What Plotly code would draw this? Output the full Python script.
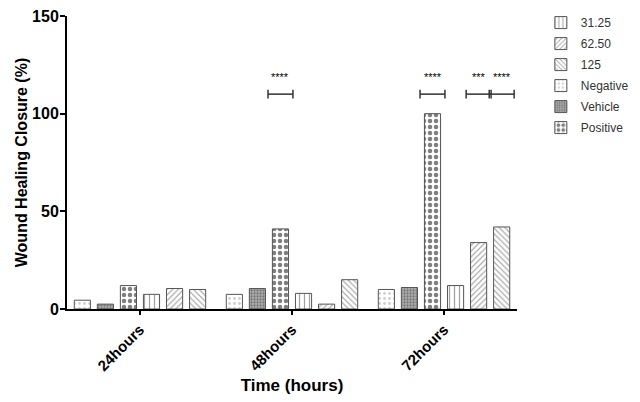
import plotly.graph_objects as go

categories = ["24hours", "48hours", "72hours"]
series_names = ["Negative", "Vehicle", "Positive", "31.25", "62.50", "125"]
negative = [4.5, 7.5, 10]
vehicle = [2.5, 10.5, 11]
positive = [12, 41, 100]
conc_31 = [7.5, 8, 12]
conc_62 = [10.5, 2.5, 34]
conc_125 = [10, 15, 42]
legend_order = ["31.25", "62.50", "125", "Negative", "Vehicle", "Positive"]

# (category index, series, stars)
significance = [
    (1, "Positive", "****"),
    (2, "Positive", "****"),
    (2, "62.50", "***"),
    (2, "125", "****"),
]
bracket_y = 110
stars_y = 119

FONT = "Liberation Sans, Arial, sans-serif"
BARGAP = 0.09

values = [negative, vehicle, positive, conc_31, conc_62, conc_125]
patterns = {
    "Negative": dict(shape=".", fgcolor="#a0a0a0", bgcolor="white", size=5, solidity=0.25),
    "Vehicle": dict(shape=".", fgcolor="#3a3a3a", bgcolor="#b0b0b0", size=3, solidity=0.45),
    "Positive": dict(shape=".", fgcolor="black", bgcolor="white", size=6, solidity=0.45),
    "31.25": dict(shape="|", fgcolor="#444444", bgcolor="white", size=5, solidity=0.25),
    "62.50": dict(shape="/", fgcolor="#555555", bgcolor="white", size=4, solidity=0.3),
    "125": dict(shape="\\", fgcolor="#555555", bgcolor="white", size=4, solidity=0.3),
}

fig = go.Figure()
x_pos = list(range(len(categories)))
for name, vals in zip(series_names, values):
    fig.add_trace(go.Bar(
        x=x_pos,
        y=vals,
        name=name,
        legendgroup=name,
        legendrank=legend_order.index(name) + 1,
        marker=dict(
            color="white",
            line=dict(color="#555555", width=1),
            pattern=patterns[name],
        ),
    ))


def bar_center(cat, series):
    slot = (1 - BARGAP) / len(series_names)
    i = series_names.index(series)
    return cat - (1 - BARGAP) / 2 + slot * (i + 0.5)


half = 0.082
cap = 2.2
for cat, series, label in significance:
    xc = bar_center(cat, series)
    line = dict(color="#333333", width=1.5)
    fig.add_shape(type="line", x0=xc - half, x1=xc + half, y0=bracket_y, y1=bracket_y, line=line)
    fig.add_shape(type="line", x0=xc - half, x1=xc - half, y0=bracket_y - cap, y1=bracket_y + cap, line=line)
    fig.add_shape(type="line", x0=xc + half, x1=xc + half, y0=bracket_y - cap, y1=bracket_y + cap, line=line)
    fig.add_annotation(x=xc, y=stars_y, text=label, showarrow=False,
                       font=dict(size=11, color="black", family=FONT))

# the page body adds an 8px offset, so the figure is 8px smaller
fig.update_layout(
    width=632,
    height=394,
    margin=dict(l=59, r=123, t=8, b=93, autoexpand=False),
    plot_bgcolor="white",
    paper_bgcolor="white",
    barmode="group",
    bargap=BARGAP,
    bargroupgap=0.3,
    font=dict(family=FONT, color="black"),
    legend=dict(
        x=1.053, y=1.027, xanchor="left", yanchor="top",
        font=dict(size=12, color="#333333"),
        bgcolor="rgba(0,0,0,0)",
        tracegroupgap=2,
    ),
)
fig.update_xaxes(
    range=[-0.48, 2.48],
    tickvals=x_pos,
    ticktext=["<b>%s</b>" % c for c in categories],
    tickangle=-45,
    tickfont=dict(size=15),
    automargin=False,
    showline=True, linecolor="black", linewidth=2,
    ticks="outside", ticklen=4, tickwidth=1.5, tickcolor="black",
    showgrid=False, zeroline=False,
    title=dict(text="<b>Time (hours)</b>", font=dict(size=17), standoff=6),
)
fig.update_yaxes(
    range=[0, 150],
    tickvals=[0, 50, 100, 150],
    ticktext=["<b>0</b>", "<b>50</b>", "<b>100</b>", "<b>150</b>"],
    tickfont=dict(size=16),
    automargin=False,
    ticklabelstandoff=-2,
    ticklabeloverflow="allow",
    showline=True, linecolor="black", linewidth=2,
    ticks="outside", ticklen=5, tickwidth=1.5, tickcolor="black",
    showgrid=False, zeroline=False,
    title=dict(text="<b>Wound Healing Closure (%)</b>", font=dict(size=16), standoff=0),
)

fig.write_html("out.html")
